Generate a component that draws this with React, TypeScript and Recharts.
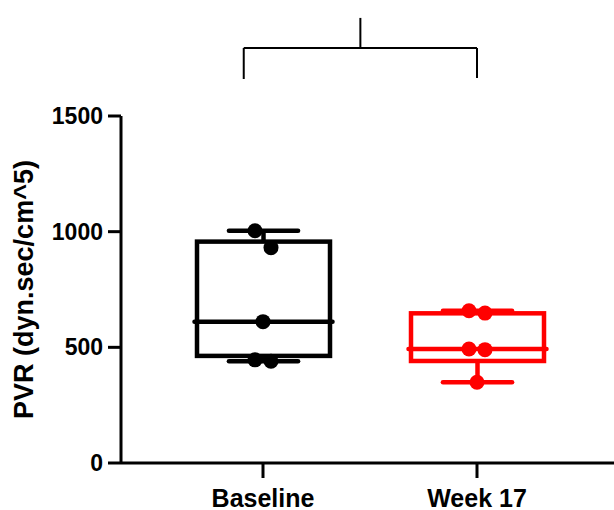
import {
  ComposedChart,
  Bar,
  Scatter,
  XAxis,
  YAxis,
  ReferenceLine,
  Label,
} from "recharts";

const groups = ["Baseline", "Week 17"];
const groupColors = ["#000000", "#ff0000"];

// individual animals
const baselinePoints = [1004, 931, 611, 446, 440];
const week17Points = [658, 648, 493, 490, 349];

// box edges as drawn
const lowerQuartiles = [463, 441];
const medians = [611, 493];
const upperQuartiles = [957, 647];

const yTicks = [0, 500, 1000, 1500];

// comparison bracket above the plot (x in group index units)
const bracketX = [-0.09, 1];
const bracketBarY = 1794;
const bracketLegsY = [1660, 1664];
const bracketStemY = 1924;

const font = "'Liberation Sans', Arial, sans-serif";

// spread near-equal points sideways, like a small beeswarm
const spread = (values: number[]) => {
  const order = values.map((v, i) => i).sort((a, b) => values[b] - values[a]);
  const dx = values.map(() => 0);
  for (let k = 0; k < order.length; k++) {
    const a = order[k];
    const b = order[k + 1];
    if (b !== undefined && values[a] - values[b] < 100) {
      dx[a] = -8;
      dx[b] = 8;
      k++;
    }
  }
  return dx;
};

const pointSets = [baselinePoints, week17Points];

const rows = groups.map((group, i) => {
  const pts = pointSets[i];
  const dx = spread(pts);
  const row: Record<string, any> = {
    idx: i,
    group,
    color: groupColors[i],
    box: [lowerQuartiles[i], upperQuartiles[i]],
    median: medians[i],
    min: Math.min(...pts),
    max: Math.max(...pts),
  };
  pts.forEach((v, j) => {
    row[`p${j}`] = v;
    row[`dx${j}`] = dx[j];
  });
  return row;
});

const BoxShape = (props: any) => {
  const { x, y, width, height, payload } = props;
  const [lo, hi] = payload.box;
  const k = height / (hi - lo);
  const toY = (v: number) => y + (hi - v) * k;
  const c = payload.color;
  const cx = x + width / 2;
  const wh = width * 0.26;
  const yMed = toY(payload.median);
  return (
    <g stroke={c} strokeWidth={4.5} fill="none">
      <line x1={cx} x2={cx} y1={toY(hi)} y2={toY(payload.max)} />
      <line x1={cx} x2={cx} y1={toY(lo)} y2={toY(payload.min)} />
      <line
        x1={cx - wh}
        x2={cx + wh}
        y1={toY(payload.max)}
        y2={toY(payload.max)}
        strokeLinecap="round"
      />
      <line
        x1={cx - wh}
        x2={cx + wh}
        y1={toY(payload.min)}
        y2={toY(payload.min)}
        strokeLinecap="round"
      />
      <rect x={x} y={y} width={width} height={height} fill="none" />
      <line
        x1={x - 2.5}
        x2={x + width + 2.5}
        y1={yMed}
        y2={yMed}
        strokeLinecap="round"
      />
    </g>
  );
};

const makeDot = (j: number) => (props: any) => {
  const { cx, cy, payload } = props;
  if (cx == null || cy == null) return <g />;
  return (
    <circle cx={cx + payload[`dx${j}`]} cy={cy} r={7.5} fill={payload.color} />
  );
};

const YLabel = (props: any) => {
  const vb = props.viewBox || { y: 116, height: 347 };
  const cy = vb.y + vb.height / 2;
  return (
    <text
      x={33}
      y={cy}
      transform={`rotate(-90 33 ${cy})`}
      textAnchor="middle"
      fontFamily={font}
      fontWeight={700}
      fontSize={27}
      fill="#000"
    >
      PVR (dyn.sec/cm^5)
    </text>
  );
};

const bracketMid = (bracketX[0] + bracketX[1]) / 2;
const bracketStroke = { stroke: "#000", strokeWidth: 2 };

export default function App() {
  return (
    <div style={{ position: "absolute", left: 0, top: 0, background: "#fff" }}>
      <ComposedChart
        width={614}
        height={510}
        data={rows}
        margin={{ top: 116, right: 0, bottom: 0, left: 0 }}
      >
        <XAxis
          dataKey="idx"
          type="number"
          domain={[-0.5, 1.5]}
          ticks={groups.map((_, i) => i)}
          tickFormatter={(v: number) => groups[v] ?? ""}
          allowDataOverflow
          padding={{ left: 35, right: 30 }}
          height={47}
          tickSize={15}
          tickMargin={11}
          axisLine={{ stroke: "#000", strokeWidth: 3 }}
          tickLine={{ stroke: "#000", strokeWidth: 3 }}
          tick={{ fontSize: 25, fontWeight: 700, fill: "#000", fontFamily: font }}
        />
        <YAxis
          type="number"
          domain={[0, 1500]}
          ticks={yTicks}
          interval={0}
          width={121}
          tickSize={13}
          tickMargin={5}
          axisLine={{ stroke: "#000", strokeWidth: 3 }}
          tickLine={{ stroke: "#000", strokeWidth: 3 }}
          tick={{ fontSize: 23, fontWeight: 700, fill: "#000", fontFamily: font }}
        >
          <Label content={<YLabel />} />
        </YAxis>
        <Bar
          dataKey="box"
          barSize={133}
          shape={BoxShape}
          isAnimationActive={false}
        />
        {baselinePoints.map((_, j) => (
          <Scatter
            key={`p${j}`}
            dataKey={`p${j}`}
            shape={makeDot(j)}
            isAnimationActive={false}
          />
        ))}
        <ReferenceLine
          ifOverflow="visible"
          segment={[
            { x: bracketX[0], y: bracketBarY },
            { x: bracketX[1], y: bracketBarY },
          ]}
          {...bracketStroke}
        />
        <ReferenceLine
          ifOverflow="visible"
          segment={[
            { x: bracketX[0], y: bracketBarY },
            { x: bracketX[0], y: bracketLegsY[0] },
          ]}
          {...bracketStroke}
        />
        <ReferenceLine
          ifOverflow="visible"
          segment={[
            { x: bracketX[1], y: bracketBarY },
            { x: bracketX[1], y: bracketLegsY[1] },
          ]}
          {...bracketStroke}
        />
        <ReferenceLine
          ifOverflow="visible"
          segment={[
            { x: bracketMid, y: bracketBarY },
            { x: bracketMid, y: bracketStemY },
          ]}
          {...bracketStroke}
        />
      </ComposedChart>
    </div>
  );
}
